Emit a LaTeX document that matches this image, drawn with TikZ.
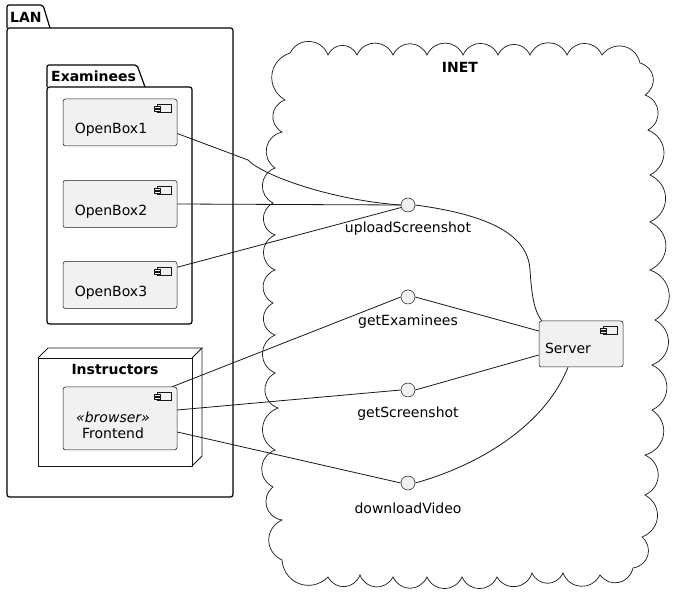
\documentclass[tikz,border=0pt]{standalone}
\usepackage{fontspec}
\setmainfont{DejaVu Sans}
\usetikzlibrary{calc}
\definecolor{ink}{HTML}{181818}
\definecolor{cfill}{HTML}{F1F1F1}
\tikzset{
  x=1pt, y=-1pt,
  comp/.style={draw=ink, line width=0.5pt, fill=cfill, rounded corners=2.5pt,
    minimum width=114pt, minimum height=47pt, inner sep=0pt},
  iface/.style={circle, draw=ink, line width=0.5pt, fill=cfill, minimum size=14pt, inner sep=0pt},
  lbl/.style={font=\fontsize{14}{17}\selectfont, inner sep=0pt},
  blbl/.style={font=\fontsize{14}{17}\selectfont\bfseries, inner sep=0pt},
  pkg/.style={draw=black, line width=1.2pt, line join=round},
  conn/.style={draw=ink, line width=0.8pt},
  cicon/.pic={
    \draw[ink, line width=0.5pt, fill=cfill] (-20,6) rectangle (-6,14);
    \draw[ink, line width=0.5pt, fill=cfill] (-23,8) rectangle (-17,9.8);
    \draw[ink, line width=0.5pt, fill=cfill] (-23,10.8) rectangle (-17,12.6);
  }
}
\begin{document}
\begin{tikzpicture}
\useasboundingbox (0,0) rectangle (678,601);
% cloud INET
\draw[ink, line width=0.7pt, fill=white] (290,53)
  \foreach \px/\py in {328/55,357/55,393/55,427/55,463/55,498/55,530/55,567/55,602/55,640/63,
    645/95,648/130,650/175,650/222,650/270,655/320,652/365,652/410,645/455,645/495,642/537,633/568,
    600/575,563/573,532/573,497/577,462/577,427/577,393/577,360/575,328/577,282/560,
    282/520,273/487,275/450,278/408,275/373,275/335,273/303,275/270,275/235,273/203,275/168,282/132,285/100,290/53}
  { to[bend left=65, looseness=1.25] (\px,\py) };
\node[blbl] (inet) at (460,67) {INET};

% LAN package
\draw[pkg, rounded corners=2pt] (7,28) -- (7,5) -- (43,5) -- (50,28);
\draw[pkg, rounded corners=2.5pt] (7,28) -- (233,28) -- (233,497) -- (7,497) -- cycle;
\node[blbl, anchor=west] (lan) at (10,17) {LAN};

% Examinees package
\draw[pkg, rounded corners=2pt] (47,87) -- (47,65) -- (137,65) -- (145,87);
\draw[pkg, rounded corners=2.5pt] (47,87) -- (192,87) -- (192,324) -- (47,324) -- cycle;
\node[blbl, anchor=west] (exa) at (51,76) {Examinees};

% Instructors node (3D box)
\draw[ink, line width=0.8pt, fill=white] (38,358) rectangle (192,466);
\draw[ink, line width=0.8pt] (38,358) -- (48,348) -- (202,348) -- (192,358);
\draw[ink, line width=0.8pt] (202,348) -- (202,456) -- (192,466);
\node[blbl] (ins) at (115,369) {Instructors};

% components
\node[comp] (ob1) at (120,122.5) {};
\node[lbl] at (111,130) {OpenBox1};
\node[comp] (ob2) at (120,204) {};
\node[lbl] at (111,212) {OpenBox2};
\node[comp] (ob3) at (120,285) {};
\node[lbl] at (111,293) {OpenBox3};
\node[comp, minimum height=63pt] (fe) at (120,418.5) {};
\node[lbl] at (113,417) {\itshape «browser»};
\node[lbl] at (113,433) {Frontend};
\node[comp, minimum width=84pt, minimum height=46pt] (srv) at (581,344) {};
\node[lbl] at (568,348) {Server};
\foreach \c in {ob1,ob2,ob3,fe,srv} { \pic at (\c.north east) {cicon}; }

% interfaces
\node[iface] (up) at (408,205) {};
\node[lbl] at (408,229) {uploadScreenshot};
\node[iface] (ge) at (408,297) {};
\node[lbl] at (408,322) {getExaminees};
\node[iface] (gs) at (408,390) {};
\node[lbl] at (408,414) {getScreenshot};
\node[iface] (dv) at (408,483) {};
\node[lbl] at (408,508) {downloadVideo};

% connectors
\draw[conn] ($(ob1.east)+(0,11)$) -- (248,160) .. controls (262,175) and (330,200) .. (up.west);
\draw[conn] (ob2.east) -- (up.west);
\draw[conn] ($(ob3.north east)+(0,6)$) -- (up.200);
\draw[conn] (up.east) .. controls (490,215) and (528,235) .. (530,270) .. controls (532,300) and (535,312) .. ($(srv.north west)+(3,0)$);
\draw[conn] (ge.east) -- ($(srv.west)+(0,-13)$);
\draw[conn] (gs.east) -- ($(srv.west)+(0,11)$);
\draw[conn] (dv.east) .. controls (480,465) and (545,425) .. ($(srv.south)+(-13,0)$);
\draw[conn] ($(fe.north east)+(-5,0)$) -- (ge.west);
\draw[conn] ($(fe.east)+(0,-8.5)$) -- (gs.west);
\draw[conn] ($(fe.east)+(0,13.5)$) -- (dv.west);
\end{tikzpicture}
\end{document}
